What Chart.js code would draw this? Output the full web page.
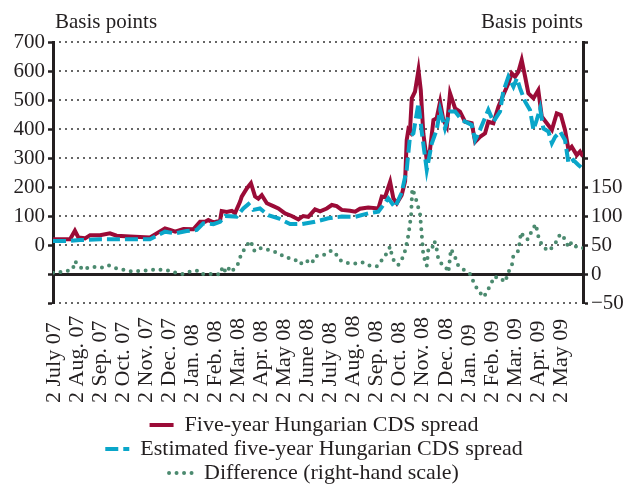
<!DOCTYPE html>
<html>
<head>
<meta charset="utf-8">
<title>Hungarian CDS spread</title>
<script src="https://cdn.jsdelivr.net/npm/chart.js@4.4.1/dist/chart.umd.min.js"></script>
<style>
    html, body { margin: 0; padding: 0; background: #fff; }
    #wrap { width: 628px; height: 484px; }
</style>
</head>
<body>
<div id="wrap"><canvas id="cds" width="628" height="484"></canvas></div>
<script>
// x = months after 2 July 2007
var monthLabels = ['2 July 07', '2 Aug. 07', '2 Sep. 07', '2 Oct. 07', '2 Nov. 07', '2 Dec. 07',
    '2 Jan. 08', '2 Feb. 08', '2 Mar. 08', '2 Apr. 08', '2 May 08', '2 June 08', '2 July 08',
    '2 Aug. 08', '2 Sep. 08', '2 Oct. 08', '2 Nov. 08', '2 Dec. 08', '2 Jan. 09', '2 Feb. 09',
    '2 Mar. 09', '2 Apr. 09', '2 May 09'];

var leftTitle = 'Basis points';
var rightTitle = 'Basis points';
var seriesNames = ['Five-year Hungarian CDS spread', 'Estimated five-year Hungarian CDS spread', 'Difference (right-hand scale)'];

// five-year CDS spread (left scale)
var cdsMonths = [0, 0.74, 0.95, 1.10, 1.39, 1.61, 2.04, 2.47, 2.76, 3.34, 4.21, 4.50, 4.86, 5.08, 5.30, 5.66,
    6.09, 6.38, 6.60, 6.74, 6.96, 7.25, 7.32, 7.54, 7.76, 7.90, 8.12, 8.19, 8.41, 8.59, 8.77, 8.91, 9.06,
    9.28, 9.56, 9.78, 10.07, 10.36, 10.65, 10.86, 11.08, 11.37, 11.59, 11.88, 12.10, 12.31, 12.53, 12.89,
    13.11, 13.32, 13.68, 14.12, 14.27, 14.41, 14.63, 14.77, 14.92, 15.13, 15.28, 15.35, 15.42, 15.49,
    15.57, 15.71, 15.86, 15.96, 16.07, 16.22, 16.36, 16.51, 16.65, 16.80, 16.94, 17.09, 17.23, 17.45,
    17.66, 17.88, 18.17, 18.32, 18.53, 18.75, 18.89, 19.11, 19.33, 19.54, 19.76, 19.91, 20.05, 20.20,
    20.34, 20.49, 20.63, 20.85, 21.06, 21.21, 21.43, 21.65, 21.86, 22.04, 22.22, 22.37, 22.51, 22.73,
    22.87, 23.0];
var cdsValues = [20, 20, 49, 26, 23, 34, 34, 40, 32, 29, 26, 40, 57, 52, 46, 55,
    54, 80, 80, 86, 78, 84, 117, 114, 118, 110, 150, 167, 195, 213, 167, 160, 172,
    144, 134, 126, 109, 100, 88, 100, 97, 123, 116, 126, 138, 134, 121, 118,
    115, 125, 129, 126, 167, 165, 218, 161, 144, 172, 220, 362, 397, 390,
    506, 529, 603, 534, 385, 293, 328, 431, 437, 494, 431, 408, 523, 471,
    460, 425, 420, 356, 373, 385, 425, 420, 477, 517, 557, 592, 580, 598,
    638, 580, 523, 506, 534, 443, 420, 397, 454, 448, 397, 328, 339, 310,
    322, 305];

// estimated spread (left scale)
var estMonths = [0, 0.74, 1.17, 2.04, 3.34, 4.21, 4.86, 5.30, 5.80, 6.24, 6.52, 6.96, 7.25, 7.47, 7.97,
    8.26, 8.48, 8.69, 8.98, 9.34, 9.78, 10.29, 10.79, 11.37, 11.95, 12.53, 13.11, 13.68, 14.12, 14.55,
    14.84, 15.13, 15.35, 15.49, 15.64, 15.86, 16.01, 16.22, 16.44, 16.65, 16.80, 17.01, 17.23, 17.45,
    17.74, 18.17, 18.32, 18.53, 18.89, 19.11, 19.40, 19.54, 19.76, 19.98, 20.13, 20.27, 20.49, 20.70,
    20.85, 20.99, 21.14, 21.28, 21.50, 21.65, 21.79, 22.01, 22.22, 22.37, 22.58, 22.80, 23.0];
var estValues = [14, 14, 17, 20, 20, 20, 46, 40, 48, 52, 75, 72, 80, 100, 98,
    126, 141, 121, 126, 103, 92, 72, 72, 80, 92, 98, 97, 109, 115, 161,
    130, 180, 260, 373, 385, 489, 385, 259, 351, 397, 466, 402, 460, 460,
    431, 414, 362, 397, 466, 425, 460, 529, 580, 546, 575, 540, 494, 466,
    397, 431, 471, 402, 391, 351, 373, 391, 362, 282, 293, 276, 262];

// difference (right scale)
var diffMonths = [0, 0.48, 0.86, 0.95, 1.14, 1.32, 1.58, 1.90, 2.11, 2.40, 2.73, 3.08, 3.46, 3.81, 4.18,
    4.47, 4.76, 5.05, 5.34, 5.63, 5.92, 6.24, 6.41, 6.70, 7.03, 7.25, 7.37, 7.51, 7.68, 7.80, 8.02, 8.16,
    8.41, 8.59, 8.69, 8.77, 8.91, 9.17, 9.46, 9.75, 10.07, 10.50, 10.72, 10.94, 11.23, 11.37, 11.63,
    11.88, 12.07, 12.24, 12.41, 12.64, 12.99, 13.23, 13.42, 13.68, 14.05, 14.27, 14.41, 14.63, 14.70,
    14.84, 14.99, 15.13, 15.28, 15.39, 15.45, 15.54, 15.59, 15.71, 15.83, 15.93, 15.97, 16.03, 16.07,
    16.22, 16.29, 16.44, 16.55, 16.65, 16.72, 16.87, 17.01, 17.16, 17.27, 17.42, 17.59, 17.88, 18.10,
    18.32, 18.53, 18.68, 18.82, 19.04, 19.18, 19.33, 19.47, 19.62, 19.76, 19.91, 19.98, 20.20, 20.31,
    20.49, 20.63, 20.78, 20.95, 21.09, 21.28, 21.53, 21.79, 22.01, 22.22, 22.37, 22.51, 22.73, 22.87, 23.0];
var diffValues = [2, 4, 8, 22, 14, 7, 12, 12, 11, 15, 10, 7, 4, 6, 6,
    8, 7, 6, 2, 0, 4, 6, 0, 0, 0, -1, 13, 2, 12, 6, 17, 33,
    50, 57, 41, 40, 45, 44, 40, 37, 29, 25, 17, 24, 18, 31, 31,
    35, 40, 37, 25, 20, 18, 18, 20, 15, 13, 24, 31, 47, 33,
    18, 16, 24, 40, 60, 75, 101, 147, 135, 118, 103, 83, 54, 32,
    14, 43, 43, 57, 43, 26, 17, 14, 3, 43, 32, 14, 6, 0,
    -20, -32, -40, -32, -14, -4, -9, -9, -14, 3, 14, 32, 40, 72,
    60, 60, 75, 86, 60, 46, 40, 52, 69, 60, 46, 55, 46, 46, 45];

var serif = "'Liberation Serif', 'Times New Roman', serif";
var ink = '#231f20';
Chart.defaults.font.family = serif;
Chart.defaults.color = ink;

function toPoints(xs, ys) {
    return xs.map(function (x, i) { return { x: x, y: ys[i] }; });
}

function fmtTick(v) {
    return v < 0 ? '\u2212' + Math.abs(v) : String(v);
}

// dotted grid, one row per left-scale step
var gridPlugin = {
    id: 'cdsGrid',
    beforeDatasetsDraw: function (chart) {
        var ctx = chart.ctx;
        var area = chart.chartArea;
        var ys = chart.scales.y;
        ctx.save();
        ctx.fillStyle = '#666666';
        ys.ticks.forEach(function (t) {
            if (t.value === -100) return; // zero line of the right scale sits here
            var y = Math.round(ys.getPixelForValue(t.value));
            for (var x = area.left + 6; x < area.right - 2; x += 6) {
                ctx.fillRect(x, y - 1, 2, 2);
            }
        });
        ctx.restore();
    }
};

// titles above the axes + month labels written bottom-up
var textPlugin = {
    id: 'cdsText',
    afterDraw: function (chart) {
        var ctx = chart.ctx;
        var area = chart.chartArea;
        var xs = chart.scales.x;
        ctx.save();
        ctx.fillStyle = ink;
        ctx.font = '21px ' + serif;
        ctx.textBaseline = 'alphabetic';
        ctx.textAlign = 'left';
        ctx.fillText(leftTitle, area.left + 2, 28);
        ctx.textAlign = 'right';
        ctx.fillText(rightTitle, area.right, 28);

        ctx.font = '22px ' + serif;
        ctx.textAlign = 'left';
        ctx.textBaseline = 'middle';
        monthLabels.forEach(function (label, i) {
            ctx.save();
            ctx.translate(xs.getPixelForValue(i) + 1, area.bottom + 100);
            ctx.rotate(-Math.PI / 2);
            ctx.fillText(label, 0, 0);
            ctx.restore();
        });
        ctx.restore();
    }
};

function makeDataset(name, xs, ys, color, axis, extra) {
    var ds = {
        label: name,
        data: toPoints(xs, ys),
        yAxisID: axis,
        borderColor: color,
        backgroundColor: color,
        borderWidth: 4,
        tension: 0,
        pointRadius: 0,
        pointHoverRadius: 0,
        pointStyle: 'line',
        fill: false
    };
    return Object.assign(ds, extra);
}

var chart = new Chart(document.getElementById('cds'), {
    type: 'line',
    data: {
        datasets: [
            makeDataset(seriesNames[0], cdsMonths, cdsValues, '#9b0b37', 'y', { order: 3 }),
            makeDataset(seriesNames[1], estMonths, estValues, '#0aa6c9', 'y', { order: 2, borderDash: [13, 5] }),
            makeDataset(seriesNames[2], diffMonths, diffValues, '#4b8a6f', 'y2', { order: 1, borderDash: [0, 7.5], borderCapStyle: 'round' })
        ]
    },
    plugins: [gridPlugin, textPlugin],
    options: {
        responsive: false,
        animation: false,
        devicePixelRatio: 1,
        layout: { padding: { top: 42, left: 0, right: 0, bottom: 0 } },
        scales: {
            x: {
                type: 'linear',
                min: 0,
                max: 23,
                afterFit: function (s) { s.height = 109; },
                ticks: { display: false },
                grid: { display: false },
                border: { display: false }
            },
            y: {
                position: 'left',
                min: -200,
                max: 700,
                ticks: {
                    stepSize: 100,
                    padding: 3,
                    autoSkip: false,
                    font: { size: 21 },
                    callback: function (v) { return v >= 0 ? fmtTick(v) : ''; }
                },
                grid: { color: 'rgba(0,0,0,0)', lineWidth: 1, tickColor: ink, tickWidth: 2.5, tickLength: 5 },
                border: { color: ink, width: 3 },
                afterFit: function (s) { s.width = 53; }
            },
            y2: {
                position: 'right',
                min: -50,
                max: 400,
                ticks: {
                    stepSize: 50,
                    padding: 3,
                    autoSkip: false,
                    font: { size: 21 },
                    callback: function (v) { return v <= 150 ? fmtTick(v) : ''; }
                },
                grid: {
                    color: function (c) { return c.tick && c.tick.value === 0 ? ink : 'rgba(0,0,0,0)'; },
                    lineWidth: function (c) { return c.tick && c.tick.value === 0 ? 3 : 1; },
                    tickColor: ink,
                    tickWidth: 2.5,
                    tickLength: 5
                },
                border: { color: ink, width: 3 },
                afterFit: function (s) { s.width = 45; }
            }
        },
        plugins: {
            tooltip: { enabled: false },
            legend: {
                position: 'bottom',
                maxHeight: 72,
                labels: {
                    usePointStyle: true,
                    pointStyleWidth: 24,
                    padding: 2,
                    color: ink,
                    font: { size: 22 },
                    sort: function (a, b) { return a.datasetIndex - b.datasetIndex; },
                    generateLabels: function (chart) {
                        var items = Chart.defaults.plugins.legend.labels.generateLabels(chart);
                        items.forEach(function (it) {
                            var ds = chart.data.datasets[it.datasetIndex];
                            it.lineDash = ds.borderDash || [];
                            it.lineCap = ds.borderCapStyle || 'butt';
                            it.lineWidth = ds.borderWidth;
                            it.strokeStyle = ds.borderColor;
                        });
                        return items;
                    }
                }
            }
        }
    }
});
</script>
</body>
</html>
